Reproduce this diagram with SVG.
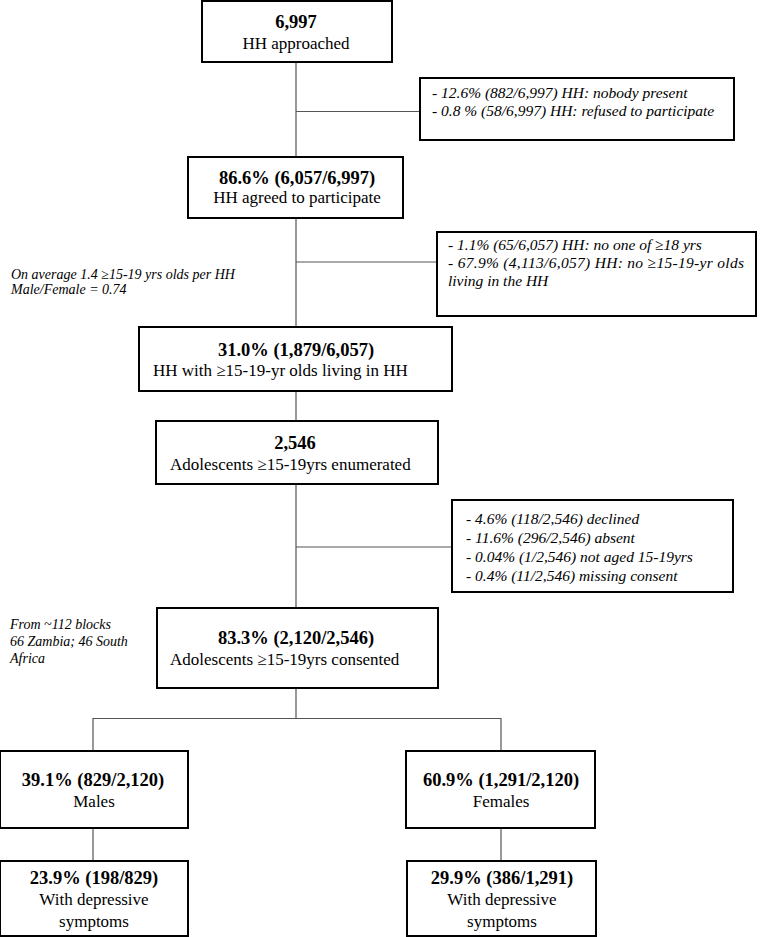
<svg xmlns="http://www.w3.org/2000/svg" width="765" height="937" viewBox="0 0 765 937">
<style>
.box{fill:#fff;stroke:#000;stroke-width:2}
.ln{stroke:#555;stroke-width:1.2;fill:none}
text{font-family:"Liberation Serif","Times New Roman",serif;fill:#000}
.b{font-weight:bold;font-size:18.5px}
.n{font-size:17px}
.c{text-anchor:middle}
.i{font-style:italic;font-size:15.5px}
.note{font-style:italic;font-size:14px}
</style>
<rect width="765" height="937" fill="#fff"/>
<g id="connectors">
<path class="ln" d="M296 62V157M296 111.5H420M296 218V327M296 262H437M296 391V421M296 484V608M296 547H452M296 688V718.5M93 718.5H501M93 718V751M501 718V751M93 828V861M501 828V861"/>
</g>
<g id="n1"><rect class="box" x="202" y="1" width="190" height="61"/>
<text class="b c" x="296" y="28">6,997</text><text class="n c" x="296" y="49">HH approached</text></g>
<g id="s1"><rect class="box" x="420" y="78" width="314" height="62"/>
<text class="i" x="432" y="98">- 12.6% (882/6,997) HH: nobody present</text>
<text class="i" x="432" y="116">- 0.8 % (58/6,997) HH: refused to participate</text></g>
<g id="n2"><rect class="box" x="188" y="157" width="215" height="61"/>
<text class="b c" x="297" y="184">86.6% (6,057/6,997)</text><text class="n c" x="297" y="203">HH agreed to participate</text></g>
<g id="s2"><rect class="box" x="437" y="232" width="319" height="84"/>
<text class="i" x="448" y="250">- 1.1% (65/6,057) HH: no one of ≥18 yrs</text>
<text class="i" x="448" y="268" textLength="296" lengthAdjust="spacing">- 67.9% (4,113/6,057) HH: no ≥15-19-yr olds</text>
<text class="i" x="448" y="286">living in the HH</text></g>
<g id="note1"><text class="note" x="11" y="279">On average 1.4 ≥15-19 yrs olds per HH</text>
<text class="note" x="11" y="294">Male/Female = 0.74</text></g>
<g id="n3"><rect class="box" x="139" y="327" width="313" height="64"/>
<text class="b c" x="296" y="356">31.0% (1,879/6,057)</text><text class="n" x="153" y="376">HH with ≥15-19-yr olds living in HH</text></g>
<g id="n4"><rect class="box" x="156" y="421" width="282" height="63"/>
<text class="b c" x="295" y="449">2,546</text><text class="n" x="170" y="470">Adolescents ≥15-19yrs enumerated</text></g>
<g id="s3"><rect class="box" x="452" y="500" width="281" height="92"/>
<text class="i" x="466" y="524">- 4.6% (118/2,546) declined</text>
<text class="i" x="466" y="543">- 11.6% (296/2,546) absent</text>
<text class="i" x="466" y="562">- 0.04% (1/2,546) not aged 15-19yrs</text>
<text class="i" x="466" y="581">- 0.4% (11/2,546) missing consent</text></g>
<g id="note2"><text class="note" x="10" y="629">From ~112 blocks</text>
<text class="note" x="10" y="646">66 Zambia; 46 South</text>
<text class="note" x="10" y="663">Africa</text></g>
<g id="n5"><rect class="box" x="157" y="608" width="281" height="80"/>
<text class="b c" x="296" y="644">83.3% (2,120/2,546)</text><text class="n" x="170" y="665">Adolescents ≥15-19yrs consented</text></g>
<g id="n6"><rect class="box" x="0" y="751" width="188" height="77"/>
<text class="b c" x="93" y="786">39.1% (829/2,120)</text><text class="n c" x="94" y="807">Males</text></g>
<g id="n7"><rect class="box" x="406" y="751" width="189" height="77"/>
<text class="b c" x="501" y="786">60.9% (1,291/2,120)</text><text class="n c" x="501" y="807">Females</text></g>
<g id="n8"><rect class="box" x="0" y="861" width="188" height="75"/>
<text class="b c" x="94" y="884">23.9% (198/829)</text><text class="n c" x="94" y="905">With depressive</text><text class="n c" x="94" y="927">symptoms</text></g>
<g id="n9"><rect class="box" x="407" y="861" width="189" height="75"/>
<text class="b c" x="502" y="884">29.9% (386/1,291)</text><text class="n c" x="502" y="905">With depressive</text><text class="n c" x="502" y="927">symptoms</text></g>
</svg>
